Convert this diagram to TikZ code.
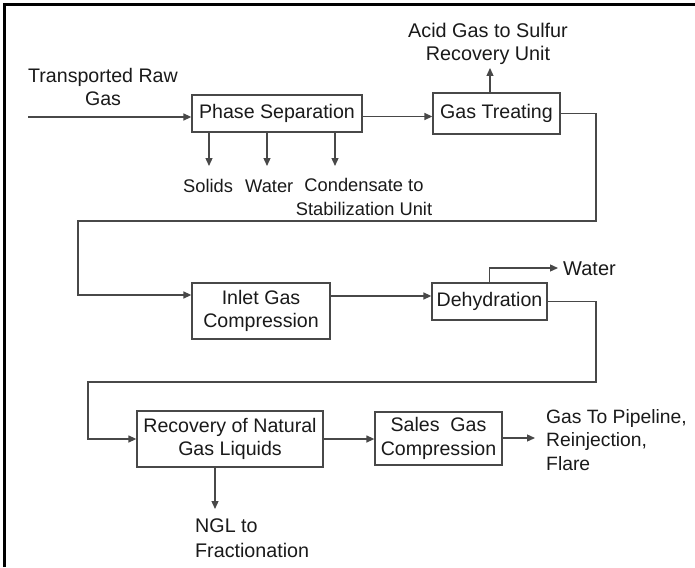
\documentclass[tikz,border=0pt]{standalone}
\usepackage{fontspec}
\setmainfont{Liberation Sans}
\usetikzlibrary{arrows.meta}
\definecolor{linec}{HTML}{484848}
\definecolor{textc}{HTML}{1A1A1A}
\tikzset{
  boxnode/.style={draw=linec, line width=1.3pt, rectangle, inner sep=0pt, text=textc,
    font=\fontsize{19.6}{23.5}\selectfont, align=center},
  lbl/.style={inner sep=0pt, text=textc, font=\fontsize{18.3}{23.5}\selectfont},
  arr/.style={draw=linec, line width=1.3pt, -{Triangle[length=8pt,width=7pt]}}
}
\begin{document}
\begin{tikzpicture}[x=1pt,y=-1pt]
\useasboundingbox (0,0) rectangle (695,567);
\fill[white] (0,0) rectangle (695,567);
\draw[black, line width=3pt] (4.5,567) -- (4.5,4.5) -- (695,4.5);

% boxes
\node[boxnode, minimum width=170pt, minimum height=37pt] (ps) at (277,113.5) {Phase Separation};
\node[boxnode, minimum width=127pt, minimum height=41pt] (gt) at (496.5,113.5) {Gas Treating};
\node[boxnode, minimum width=138pt, minimum height=56pt] (ic) at (261,311) {Inlet Gas\\Compression};
\node[boxnode, minimum width=115pt, minimum height=37pt] (dh) at (489.5,301.5) {Dehydration};
\node[boxnode, minimum width=186pt, minimum height=56pt] (rc) at (230,439) {Recovery of Natural\\Gas Liquids};
\node[boxnode, minimum width=127pt, minimum height=53pt] (sg) at (438.5,438.5) {Sales\ \ Gas\\Compression};

% labels (base anchor = baseline of last line)
\node[lbl, font=\fontsize{19.6}{23.5}\selectfont, anchor=base, align=center] (rawlbl) at (103,106) {Transported Raw\\Gas};
\node[lbl, font=\fontsize{19.8}{23}\selectfont, anchor=base, align=center] (acidlbl) at (488,61) {Acid Gas to Sulfur\\Recovery Unit};
\node[lbl, anchor=base west] (solids) at (183,192) {Solids};
\node[lbl, anchor=base west] (water1) at (245,192) {Water};
\node[lbl, anchor=base, align=center] (cond) at (364,215) {Condensate to\\Stabilization Unit};
\node[lbl, font=\fontsize{20}{23.5}\selectfont, anchor=base west] (water2) at (563,275) {Water};
\node[lbl, font=\fontsize{19.3}{23.5}\selectfont, anchor=base west, align=left] (outlbl) at (546,470) {Gas To Pipeline,\\Reinjection,\\Flare};
\node[lbl, font=\fontsize{19.7}{24.5}\selectfont, anchor=base west, align=left] (ngllbl) at (195,557) {NGL to\\Fractionation};

% coordinates
\coordinate (rawin) at (28,117);
\coordinate (s1) at (209,166);
\coordinate (s2) at (267,166);
\coordinate (s3) at (335,166);
\coordinate (acid) at (490,68);
\coordinate (r1) at (596,221);
\coordinate (l1) at (78,221);
\coordinate (icin) at ([yshift=16pt]ic.west);
\coordinate (icout) at ([yshift=15pt]ic.east);
\coordinate (wat) at (558,268);
\coordinate (r2) at (596,382);
\coordinate (l2) at (88,382);
\coordinate (gout) at (535,438);
\coordinate (ngl) at (215,509);
\coordinate (psout) at ([yshift=-3pt]ps.east);

% connectors
\draw[arr] (rawin) -- (rawin -| ps.west);
\draw[arr] (psout) -- (psout -| gt.west);
\draw[arr] (s1 |- ps.south) -- (s1);
\draw[arr] (s2 |- ps.south) -- (s2);
\draw[arr] (s3 |- ps.south) -- (s3);
\draw[arr] (acid |- gt.north) -- (acid);
\draw[arr] (gt.east) -| (r1) -- (l1) |- (icin);
\draw[arr] (icout) -- (icout -| dh.west);
\draw[arr] (dh.north) |- (wat);
\draw[arr] (dh.east) -| (r2) -- (l2) |- (rc.west);
\draw[arr] (rc.east) -- (rc.east -| sg.west);
\draw[arr] (sg.east |- gout) -- (gout);
\draw[arr] (ngl |- rc.south) -- (ngl);
\end{tikzpicture}
\end{document}
